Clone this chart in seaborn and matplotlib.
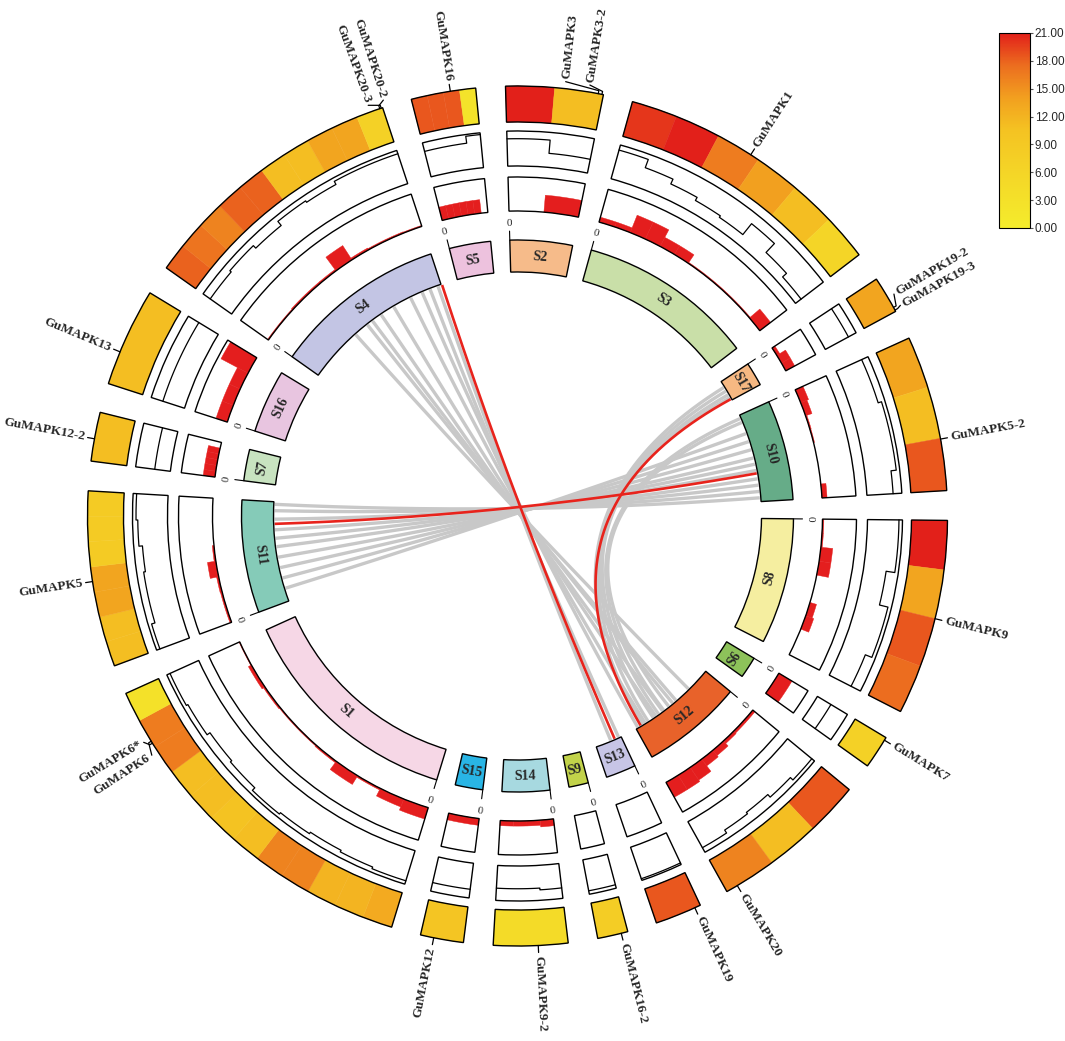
import numpy as np
import matplotlib
matplotlib.use("Agg")
import matplotlib.pyplot as plt
import seaborn as sns
from matplotlib.colors import Normalize
from matplotlib.cm import ScalarMappable

# ---------------- data ----------------
chrom_order = ["S2", "S3", "S17", "S10", "S8", "S6", "S12", "S13", "S9",
               "S14", "S15", "S1", "S11", "S7", "S16", "S4", "S5"]
chrom_len = [13.1, 37.0, 5.0, 21.0, 26.4, 4.5, 21.3, 6.3, 4.1,
             10.0, 5.8, 48.5, 23.7, 6.6, 13.3, 36.4, 8.7]  # Mb
chrom_colors = ["#F6BB8A", "#C9DFA8", "#F6B882", "#66AC88", "#F5EEA0", "#8DC25A",
                "#E8622A", "#C7C5E6", "#C2D34A", "#A7D9E0", "#29B5E5", "#F6D7E6",
                "#85CBB8", "#C8E3C0", "#E8C5E0", "#C3C5E4", "#EDC2DE"]

# heatmap track (expression, 0-21), equal bins along each chromosome
heat_bins = {
    "S2": [21, 11], "S3": [20, 21, 16.5, 14, 11, 6], "S17": [13.5],
    "S10": [13.5, 11, 18.5], "S8": [21, 13.5, 18.5, 17.5], "S6": [7],
    "S12": [18.5, 11, 16], "S13": [18.5], "S9": [8], "S14": [4.5], "S15": [10],
    "S1": [13, 12, 12, 16, 16, 11, 10.5, 11, 11, 16.5, 16.5, 3],
    "S11": [11, 11, 13.5, 13.5, 8.5, 8.5, 8.5], "S7": [11], "S16": [11],
    "S4": [18, 17, 16, 18, 18, 11, 11, 13.5, 13.5, 7], "S5": [18.5, 18.5, 18.5, 2.5],
}
# step-line track (relative value 0-1)
line_bins = {
    "S2": [0.78, 0.4], "S3": [0.85, 0.6, 0.45, 0.35, 0.3, 0.7, 0.35, 0.2], "S17": [0.75],
    "S10": [0.8, 0.8, 0.9, 0.9, 0.9, 0.75], "S8": [0.9, 0.9, 0.9, 0.65, 0.65, 0.9, 0.9, 0.9, 0.7, 0.7],
    "S6": [0.45], "S12": [0.9, 0.8, 0.7, 0.75, 0.85], "S13": [0.95], "S9": [0.9],
    "S14": [0.7, 0.65, 0.65], "S15": [0.75],
    "S1": [0.9, 0.85, 0.8, 0.85, 0.9, 0.8, 0.75, 0.85, 0.9],
    "S11": [0.9, 0.8, 0.8, 0.75, 0.85, 0.9], "S7": [0.45], "S16": [0.65],
    "S4": [0.75, 0.8, 0.7, 0.85, 0.8, 0.9, 0.9], "S5": [0.75, 0.75, 0.75, 0.95],
}
# red histogram track (relative value 0-1)
bar_bins = {
    "S2": [0, 0.5], "S3": [0.15, 0.15, 0.55, 0.55, 0.3, 0.3, 0.03, 0.03, 0.03, 0.03, 0.03, 0.4],
    "S17": [0.1, 0.3, 0.3], "S10": [0.25, 0.2, 0.04, 0.03, 0, 0, 0, 0.15],
    "S8": [0.04, 0.04, 0.35, 0.35, 0, 0, 0.2, 0.25, 0, 0], "S6": [0.45],
    "S12": [0.08, 0.08, 0.1, 0.2, 0.25, 0.45, 0.5, 0.5], "S13": [0], "S9": [0],
    "S14": [0.2, 0.15, 0.15, 0.15], "S15": [0.2],
    "S1": [0.35, 0.25, 0.05, 0.3, 0.05, 0.03, 0.03, 0.05, 0.1, 0.02],
    "S11": [0.05, 0.05, 0.06, 0.25, 0.05, 0, 0, 0], "S7": [0.35, 0.35, 0.35, 0.35, 0.35, 0],
    "S16": [0.35, 0.35, 0.35, 0.9],
    "S4": [0.03, 0.03, 0.05, 0.05, 0.05, 0.5, 0.06, 0.04, 0.04, 0.03],
    "S5": [0.4, 0.4, 0.4, 0.4, 0.4, 0.4, 0],
}

gene_names = ["GuMAPK3", "GuMAPK3-2", "GuMAPK16", "GuMAPK1", "GuMAPK19-2", "GuMAPK19-3",
              "GuMAPK5-2", "GuMAPK9", "GuMAPK7", "GuMAPK20", "GuMAPK19", "GuMAPK16-2",
              "GuMAPK9-2", "GuMAPK12", "GuMAPK6*", "GuMAPK6", "GuMAPK5", "GuMAPK12-2",
              "GuMAPK13", "GuMAPK20-2", "GuMAPK20-3"]
gene_chrom = ["S2", "S2", "S5", "S3", "S17", "S17", "S10", "S8", "S6", "S12", "S13", "S9",
              "S14", "S15", "S1", "S1", "S11", "S7", "S16", "S4", "S4"]
gene_pos = [12.4, 12.9, 5.3, 17.3, 4.4, 4.8, 14.1, 13.2, 0.4, 19.7, 0.8, 0.9,
            4.0, 4.0, 41.0, 41.3, 11.6, 3.0, 4.5, 36.0, 36.2]

# collinear gene pairs (links)
link_src_chrom = ["S4"] * 9 + ["S11"] * 10 + ["S17"] * 4 + ["S10"] * 2 + ["S11", "S17", "S4"]
link_src_pos = [13, 16.6, 18.1, 20.6, 24.1, 28.6, 31.6, 33.6, 35.6,
                3.1, 5.6, 8.1, 10.6, 13.1, 15.1, 17.1, 19.6, 21.6, 23.1,
                1.5, 2.5, 3.5, 4.3, 0.8, 1.8,
                18.5, 4.7, 36.6]
link_dst_chrom = ["S12"] * 7 + ["S13"] * 2 + ["S10"] * 10 + ["S12"] * 6 + ["S10", "S12", "S13"]
link_dst_pos = [5.8, 9.8, 10.8, 13.8, 15.8, 18.8, 20.8, 0.6, 2.6,
                4.6, 6.6, 8.6, 10.6, 12.1, 13.6, 15.6, 17.1, 18.6, 20.1,
                19.5, 18.0, 16.5, 15.0, 13.5, 12.0,
                14.3, 20.0, 1.6]
link_is_red = [False] * 25 + [True, True, True]

# ---------------- layout / style ----------------
GAP_DEG = 3.98
START_DEG = -1.6
R_HEAT = (394, 430)
R_LINE = (350, 385)
R_BAR = (305, 339)
R_IDEO = (244, 276)
R_MAX = 480
R_LEAD = 437
R_TEXT = 440
label_shift = [-4.5, -1.8, 0, 0, -1.5, -0.2, 0, 0, 0, 0, 0, 0, 0, 0, 0.7, -1.6, 0, 0, 0, 0.8, -1.5]

sns.set_theme(style="white")
plt.rcParams['font.family'] = ['Liberation Serif', 'DejaVu Serif']

heat_cmap = sns.blend_palette(["#F4EC2C", "#F4DF29", "#F4D126", "#F4C322",
                               "#F2A01F", "#EC6E1F", "#E2201A"], as_cmap=True)
norm = Normalize(0, 21)

deg_per_mb = (360 - GAP_DEG * len(chrom_order)) / sum(chrom_len)
starts, ends = {}, {}
a = START_DEG
for name, L in zip(chrom_order, chrom_len):
    starts[name] = a
    ends[name] = a + L * deg_per_mb
    a = ends[name] + GAP_DEG


def ang(chrom, pos):
    return starts[chrom] + pos * deg_per_mb


fig = plt.figure(figsize=(10.65, 10.41), dpi=100)
W, H = 1065, 1041
cx, cy = 517.5, 516
ax = fig.add_axes([(cx - R_MAX) / W, (H - cy - R_MAX) / H, 2 * R_MAX / W, 2 * R_MAX / H],
                  projection='polar')
ax.set_theta_zero_location('N')
ax.set_theta_direction(-1)
ax.set_ylim(0, R_MAX)
ax.set_axis_off()


def sector(t0, t1, r0, r1, **kw):
    ax.bar(np.deg2rad((t0 + t1) / 2), r1 - r0, width=np.deg2rad(t1 - t0), bottom=r0,
           align='center', **kw)


for name, col in zip(chrom_order, chrom_colors):
    s, e = starts[name], ends[name]
    # heatmap
    vals = heat_bins[name]
    edges = np.linspace(s, e, len(vals) + 1)
    for v, a0, a1 in zip(vals, edges[:-1], edges[1:]):
        c = heat_cmap(norm(v))
        sector(a0, a1, *R_HEAT, color=c, edgecolor=c, linewidth=0.3, zorder=2)
    sector(s, e, *R_HEAT, fill=False, edgecolor='black', linewidth=1.0, zorder=3)
    # step line
    vals = line_bins[name]
    edges = np.linspace(s, e, len(vals) + 1)
    th, rr = [], []
    for v, a0, a1 in zip(vals, edges[:-1], edges[1:]):
        t = np.linspace(a0, a1, 40)
        th.extend(t)
        rr.extend([R_LINE[0] + v * (R_LINE[1] - R_LINE[0])] * len(t))
    ax.plot(np.deg2rad(th), rr, color='black', lw=0.9, zorder=3)
    sector(s, e, *R_LINE, fill=False, edgecolor='black', linewidth=1.0, zorder=3)
    # red histogram
    vals = bar_bins[name]
    edges = np.linspace(s, e, len(vals) + 1)
    for v, a0, a1 in zip(vals, edges[:-1], edges[1:]):
        if v > 0:
            sector(a0, a1, R_BAR[0], R_BAR[0] + v * (R_BAR[1] - R_BAR[0]),
                   color='#E41E1E', edgecolor='#E41E1E', linewidth=0.3, zorder=2)
    sector(s, e, *R_BAR, fill=False, edgecolor='black', linewidth=1.0, zorder=3)
    # ideogram
    sector(s, e, *R_IDEO, color=col, edgecolor='black', linewidth=1.0, zorder=3)
    mid = (s + e) / 2
    m = mid % 360
    rot = 180 - m if 90 < m < 270 else -m
    ax.text(np.deg2rad(mid), (R_IDEO[0] + R_IDEO[1]) / 2, name, rotation=rot,
            rotation_mode='anchor', ha='center', va='center', fontsize=10,
            fontweight='bold', zorder=4)
    # "0" tick
    ax.plot([np.deg2rad(s)] * 2, [R_IDEO[1], R_IDEO[1] + 9], color='black', lw=0.8, zorder=3)
    ax.text(np.deg2rad(s), R_IDEO[1] + 17, "0", rotation=-(s % 360), rotation_mode='anchor',
            ha='center', va='center', fontsize=8, zorder=4)

# links
def bezier_polar(t_a, t_b, r=R_IDEO[0] - 1, n=300):
    pa = np.array([r * np.sin(np.deg2rad(t_a)), r * np.cos(np.deg2rad(t_a))])
    pb = np.array([r * np.sin(np.deg2rad(t_b)), r * np.cos(np.deg2rad(t_b))])
    t = np.linspace(0, 1, n)[:, None]
    pts = (1 - t) ** 2 * pa + t ** 2 * pb
    return np.arctan2(pts[:, 0], pts[:, 1]), np.hypot(pts[:, 0], pts[:, 1])

order_idx = [i for i in range(len(link_is_red)) if not link_is_red[i]] + \
            [i for i in range(len(link_is_red)) if link_is_red[i]]
for i in order_idx:
    ta = ang(link_src_chrom[i], link_src_pos[i])
    tb = ang(link_dst_chrom[i], link_dst_pos[i])
    th, rr = bezier_polar(ta, tb)
    if link_is_red[i]:
        ax.plot(th, rr, color='#E8231C', lw=1.9, zorder=1.5, solid_capstyle='butt')
    else:
        ax.plot(th, rr, color='#C8C8C8', lw=2.4, zorder=1, solid_capstyle='butt')

# gene labels
for name, ch, pos, sh in zip(gene_names, gene_chrom, gene_pos, label_shift):
    g = ang(ch, pos)
    L = g + sh
    ax.plot(np.deg2rad([g, g, L]), [R_HEAT[1], R_HEAT[1] + 3, R_LEAD],
            color='black', lw=0.9, zorder=3)
    m = L % 360
    if m < 180:
        rot, ha = 90 - m, 'left'
    else:
        rot, ha = 270 - m, 'right'
    ax.text(np.deg2rad(L), R_TEXT, name, rotation=rot, rotation_mode='anchor',
            ha=ha, va='center', fontsize=9.5, fontweight='bold', zorder=4)

# colorbar
cax = fig.add_axes([999 / W, (H - 228) / H, 31 / W, 195 / H])
sm = ScalarMappable(norm=norm, cmap=heat_cmap)
cb = fig.colorbar(sm, cax=cax, ticks=np.arange(0, 22, 3))
cb.ax.set_yticklabels([f"{v:.2f}" for v in np.arange(0, 22, 3)],
                      fontfamily='Liberation Sans', fontsize=8.5)
cb.outline.set_linewidth(0.8)
cb.outline.set_edgecolor('black')
cb.ax.tick_params(length=2, width=0.8, pad=1.5, direction='out', right=True, color='#555555')

fig.savefig("out.png", dpi=100)
